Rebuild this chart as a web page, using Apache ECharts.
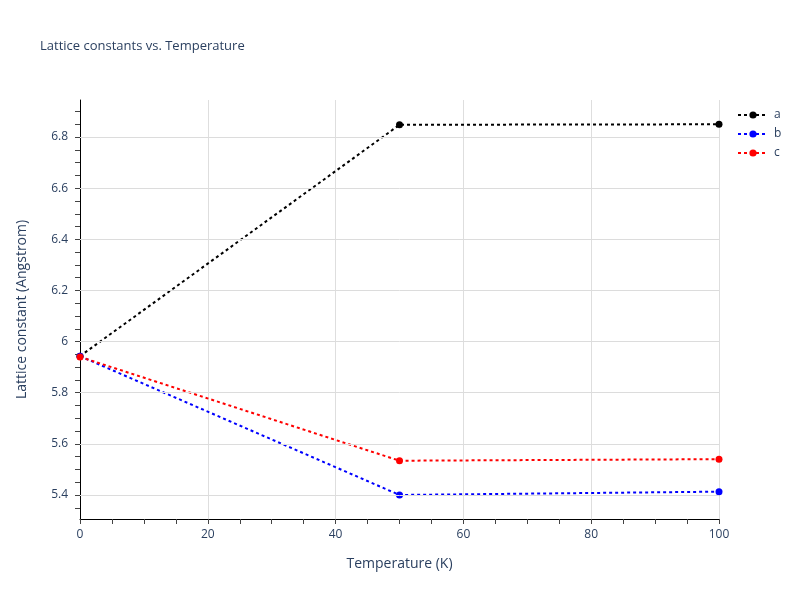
<!DOCTYPE html>
<html>
<head>
<meta charset="utf-8">
<script src="https://cdn.jsdelivr.net/npm/echarts@6/dist/echarts.min.js"></script>
<style>html,body{margin:0;padding:0;background:#fff;}#c{width:800px;height:600px;}</style>
</head>
<body>
<div id="c"></div>
<script>
var temperatures = [0, 50, 100];
var seriesA = [5.943, 6.848, 6.850];
var seriesB = [5.943, 5.400, 5.413];
var seriesC = [5.940, 5.534, 5.540];
var seriesNames = ['a', 'b', 'c'];
var seriesColors = ['#000000', '#0000ff', '#ff0000'];
var yTickLabels = [5.4, 5.6, 5.8, 6.0, 6.2, 6.4, 6.6, 6.8];
var yMinorTicks = [5.35, 5.4, 5.45, 5.5, 5.55, 5.6, 5.65, 5.7, 5.75, 5.8, 5.85, 5.9, 5.95, 6.0, 6.05, 6.1, 6.15, 6.2, 6.25, 6.3, 6.35, 6.4, 6.45, 6.5, 6.55, 6.6, 6.65, 6.7, 6.75, 6.8, 6.85, 6.9];
var yRange = [5.306, 6.945];
var xRange = [0, 100];

var txt = '#2a3f5f';
var font = '"Open Sans", Verdana, Arial, sans-serif';
var chart = echarts.init(document.getElementById('c'), null, {renderer: 'canvas'});

function mk(name, vals, color) {
  return {
    name: name, type: 'line', z: 3,
    data: temperatures.map(function (t, i) { return [t, vals[i]]; }),
    symbol: 'circle', symbolSize: 7, showSymbol: true,
    itemStyle: {color: color},
    lineStyle: {color: color, width: 2, type: [3, 3]},
    emphasis: {disabled: true},
    animation: false
  };
}

var option = {
  backgroundColor: '#ffffff',
  textStyle: {fontFamily: font},
  title: {
    text: 'Lattice constants vs. Temperature',
    left: 35, top: 35,
    textStyle: {fontFamily: font, fontSize: 13, fontWeight: 'normal', color: txt}
  },
  legend: {
    orient: 'vertical', left: 737, top: 109, padding: 0,
    itemGap: 7, itemWidth: 30, itemHeight: 9,
    data: seriesNames,
    textStyle: {fontFamily: font, fontSize: 12, color: txt, padding: [0, 0, 0, 1]}
  },
  grid: {left: 80, right: 81, top: 100, bottom: 81, containLabel: false},
  xAxis: {
    type: 'value', min: xRange[0], max: xRange[1], interval: 20,
    name: 'Temperature (K)', nameLocation: 'middle', nameGap: 38,
    nameTextStyle: {fontFamily: font, fontSize: 14, color: txt},
    axisLine: {show: true, onZero: false, lineStyle: {color: '#000', width: 1}},
    axisTick: {show: true, length: 5, lineStyle: {color: '#444'}},
    minorTick: {show: true, splitNumber: 4, length: 5, lineStyle: {color: '#444'}},
    axisLabel: {fontFamily: font, fontSize: 12, color: txt, margin: 10},
    splitLine: {show: true, lineStyle: {color: '#dedede', width: 1}}
  },
  yAxis: {
    type: 'value', min: yRange[0], max: yRange[1],
    name: 'Lattice constant (Angstrom)', nameLocation: 'middle', nameGap: 51,
    nameTextStyle: {fontFamily: font, fontSize: 14, color: txt},
    axisLine: {show: true, onZero: false, lineStyle: {color: '#000', width: 1}},
    axisTick: {show: true, length: 5, customValues: yMinorTicks, lineStyle: {color: '#444'}},
    axisLabel: {fontFamily: font, fontSize: 12, color: txt, margin: 12, customValues: yTickLabels,
      formatter: function (v) { return String(Math.round(v * 100) / 100); }},
    splitLine: {show: false}
  },
  series: [
    {
      name: 'grid', type: 'line', data: [], z: 1, silent: true,
      markLine: {
        silent: true, symbol: 'none', animation: false,
        label: {show: false},
        lineStyle: {color: '#dcdcdc', width: 1, type: 'solid'},
        data: yTickLabels.map(function (v) { return {yAxis: v}; })
      }
    },
    mk(seriesNames[0], seriesA, seriesColors[0]),
    mk(seriesNames[1], seriesB, seriesColors[1]),
    mk(seriesNames[2], seriesC, seriesColors[2])
  ],
  animation: false
};
chart.setOption(option);
</script>
</body>
</html>
